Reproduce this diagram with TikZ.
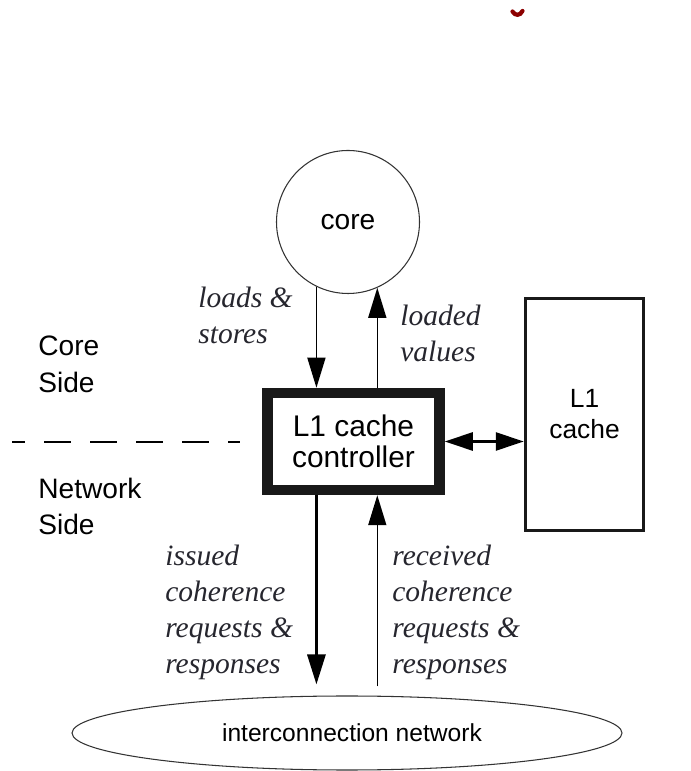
\documentclass[tikz,border=0pt]{standalone}
\usepackage{fontspec}
\setmainfont{Liberation Serif}
\setsansfont{Liberation Sans}
\usetikzlibrary{arrows.meta,shapes.geometric,positioning,calc}

\definecolor{ink}{HTML}{26262E}

\begin{document}
\begin{tikzpicture}[
    unit/.style={draw=black!90, line width=0.21cm, minimum width=3.44cm, minimum height=1.94cm, align=center, font=\sffamily\fontsize{17}{17.5}\selectfont},
    store/.style={draw=black!90, line width=2pt, minimum width=2.36cm, minimum height=4.64cm, align=center, font=\sffamily\fontsize{15}{17.6}\selectfont},
    side/.style={anchor=north west, inner sep=0pt, align=left, font=\sffamily\fontsize{16}{20.5}\selectfont},
    lbl/.style={anchor=north west, inner sep=0pt, align=left, text=ink, font=\itshape\fontsize{16.8}{20.5}\selectfont},
    arr/.style={-{Triangle[length=0.6cm, width=0.36cm]}, line width=0.85pt},
    warr/.style={-{Triangle[length=0.6cm, width=0.36cm]}, line width=1.7pt},
    barr/.style={{Triangle[length=0.56cm, width=0.36cm]}-{Triangle[length=0.56cm, width=0.36cm]}, line width=1.5pt},
    cut/.style={dash pattern=on 0.54cm off 0.38cm, dash phase=0.28cm, line width=1.2pt}
]
\useasboundingbox (0,0) rectangle (13.8,15.42);

% stray mark at the top
\draw[line width=2.4pt, draw=red!55!black, line cap=round] (10.25,15.19) .. controls (10.3,15.1) and (10.4,15.1) .. (10.45,15.2);

\node[circle, draw=black!80, line width=0.6pt, minimum size=2.86cm, inner sep=0pt, font=\sffamily\fontsize{16}{19}\selectfont] (core) at (6.96,10.98) {core};
\node[unit] (ctl) at (7.07,6.59) {L1 cache\\controller};
\node[store] (cache) at (11.69,7.13) {L1\\cache};
\node[ellipse, draw=black!80, line width=0.6pt, minimum width=11cm, minimum height=1.48cm, inner sep=0pt] (net) at (6.94,0.76) {};
\node[font=\sffamily\fontsize{14}{17}\selectfont, inner sep=0pt] (nettext) at ([xshift=0.1cm]net.center) {interconnection network};

\node[side] (cs) at (0.76,8.70) {Core\\Side};
\node[side] (ns) at (0.76,5.87) {Network\\Side};
\node[lbl] (ls) at (3.96,9.68) {loads \&\\stores};
\node[lbl] (lv) at (8.0,9.32) {loaded\\values};
\node[lbl] (iss) at (3.3,4.52) {issued\\coherence\\requests \&\\responses};
\node[lbl] (rcv) at (7.84,4.52) {received\\coherence\\requests \&\\responses};

\coordinate (cutL) at (0.24,6.58);
\coordinate (cutR) at (4.8,6.58);
\draw[cut] (cutL) -- (cutR);

\draw[arr] (core.244) -- (core.244 |- ctl.north);
\draw[arr] (ctl.north -| core.294) -- (core.294);
\draw[barr] (ctl.east) -- (ctl.east -| cache.west);
\draw[warr, shorten >=0.22cm] (ctl.south -| core.244) -- (net.north -| core.244);
\draw[arr, shorten <=0.18cm] (net.north -| core.294) -- (ctl.south -| core.294);
\end{tikzpicture}
\end{document}
